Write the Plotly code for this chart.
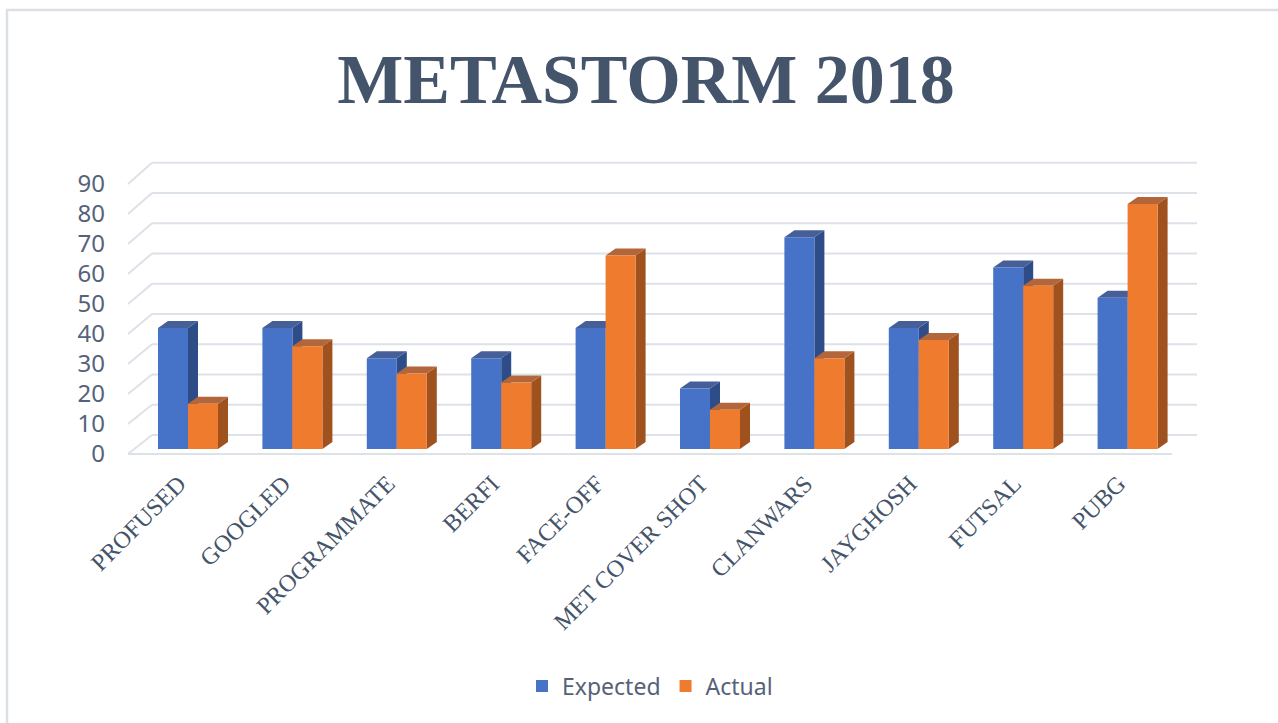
import plotly.graph_objects as go
import numpy as np

categories = ["PROFUSED", "GOOGLED", "PROGRAMMATE", "BERFI", "FACE-OFF",
              "MET COVER SHOT", "CLANWARS", "JAYGHOSH", "FUTSAL", "PUBG"]
expected = [40, 40, 30, 30, 40, 20, 70, 40, 60, 50]
actual = [15, 34, 25, 22, 64, 13, 30, 36, 54, 81]
y_ticks = [0, 10, 20, 30, 40, 50, 60, 70, 80, 90]

W, H = 1278, 723
# plot area in pixels
L_PX, R_PX, T_PX, B_PX = 128, 1197, 150, 460
PW, PH = R_PX - L_PX, B_PX - T_PX

# bar plane scale
ZERO_PX = 449.0
PX_PER_UNIT = 3.025
y0 = (ZERO_PX - B_PX) / PX_PER_UNIT
y1 = (ZERO_PX - T_PX) / PX_PER_UNIT

# x scale
CAT_PX = 104.4
FIRST_PX = 188.0
x0 = -(FIRST_PX - L_PX) / CAT_PX
x1 = x0 + PW / CAT_PX
BW = 30.0 / CAT_PX
DX = 10.0 / CAT_PX
DY = 7.0 / PX_PER_UNIT
LABEL_SHIFT = 9.0 / CAT_PX

BACK_OFF = 14.0 / PX_PER_UNIT
FRONT_SLOPE, FRONT_OFF = 0.992, -1.65


def front(v):
    return v * FRONT_SLOPE + FRONT_OFF


def xp(px):
    return (px - L_PX) / PW


def yp(py):
    return (B_PX - py) / PH


BLUE, ORANGE = "#4673C7", "#EE7B2E"
BLUE_SIDE, ORANGE_SIDE = "#2E4C88", "#A0521E"
BLUE_TOP, ORANGE_TOP = "#465F99", "#B3663A"
GRID = "#DDE1E8"
TXT = "#44546A"

xs = np.arange(len(categories))

fig = go.Figure()
fig.add_trace(go.Bar(name="Expected", x=xs, y=expected, width=BW, offset=-BW,
                     marker=dict(color=BLUE, line=dict(width=0))))
fig.add_trace(go.Bar(name="Actual", x=xs, y=actual, width=BW, offset=0,
                     marker=dict(color=ORANGE, line=dict(width=0))))

shapes = []
# gridlines (back wall + side wall diagonals)
xb = xp(152)
for v in y_ticks:
    shapes.append(dict(type="line", xref="paper", yref="y", x0=xb, x1=1.0,
                       y0=v + BACK_OFF, y1=v + BACK_OFF,
                       line=dict(color=GRID, width=2), layer="below"))
    shapes.append(dict(type="line", xref="paper", yref="y", x0=0, x1=xb,
                       y0=front(v), y1=v + BACK_OFF,
                       line=dict(color=GRID, width=2), layer="below"))
# front floor edge
shapes.append(dict(type="line", xref="paper", yref="y", x0=0, x1=xp(1172),
                   y0=front(0), y1=front(0), line=dict(color=GRID, width=2), layer="below"))


def faces(xl, v, side_c, top_c):
    xr = xl + BW
    side = f"M{xr},0 L{xr},{v} L{xr+DX},{v+DY} L{xr+DX},{DY} Z"
    top = f"M{xl},{v} L{xr},{v} L{xr+DX},{v+DY} L{xl+DX},{v+DY} Z"
    return [dict(type="path", xref="x", yref="y", path=side, fillcolor=side_c,
                 line=dict(width=0), layer="below"),
            dict(type="path", xref="x", yref="y", path=top, fillcolor=top_c,
                 line=dict(width=0), layer="below")]


for i in range(len(categories)):
    shapes += faces(xs[i] - BW, expected[i], BLUE_SIDE, BLUE_TOP)
    shapes += faces(xs[i], actual[i], ORANGE_SIDE, ORANGE_TOP)

# outer frame
shapes.append(dict(type="path", xref="paper", yref="paper",
                   path=f"M{xp(7)},{yp(H+5)} L{xp(7)},{yp(10)} L{xp(W+5)},{yp(10)}",
                   line=dict(color="#DCE0E6", width=2.5)))

fig.update_layout(
    width=W, height=H,
    margin=dict(l=L_PX, r=W - R_PX, t=T_PX, b=H - B_PX, pad=0),
    paper_bgcolor="white", plot_bgcolor="white",
    barmode="overlay",
    shapes=shapes,
    title=dict(text="<b>METASTORM 2018</b>", x=646 / W, xanchor="center",
               y=1 - 78 / H, yanchor="middle",
               font=dict(family="Liberation Serif", size=70, color=TXT)),
    xaxis=dict(range=[x0, x1], showticklabels=False, showgrid=False,
               zeroline=False, showline=False, ticks=""),
    xaxis2=dict(range=[x0 + LABEL_SHIFT, x1 + LABEL_SHIFT], overlaying="x",
                anchor="y", side="bottom",
                tickvals=list(xs), ticktext=categories,
                tickangle=-45, showgrid=False, zeroline=False, showline=False,
                ticks="", ticklabelstandoff=4,
                tickfont=dict(family="Liberation Serif", size=24, color=TXT)),
    yaxis=dict(range=[y0, y1], showgrid=False, zeroline=False, showline=False,
               showticklabels=False, ticks=""),
    yaxis2=dict(range=[(y0 - FRONT_OFF) / FRONT_SLOPE, (y1 - FRONT_OFF) / FRONT_SLOPE],
                overlaying="y", anchor="x", side="left",
                tickvals=y_ticks, ticktext=[str(v) for v in y_ticks],
                showgrid=False, zeroline=False, showline=False, ticks="",
                ticklabelstandoff=22,
                tickfont=dict(family="Noto Sans", size=24, color="#56627A")),
    legend=dict(orientation="h", xref="container", yref="container",
                x=650 / W, xanchor="center", y=1 - 686 / H, yanchor="middle",
                font=dict(family="Noto Sans", size=23, color="#56627A"),
                itemwidth=30, traceorder="normal"),
    showlegend=True,
)
# invisible helpers so the label axes render
fig.add_trace(go.Scatter(x=[None], y=[None], yaxis="y2", showlegend=False,
                         hoverinfo="skip"))
fig.add_trace(go.Scatter(x=[None], y=[None], xaxis="x2", showlegend=False,
                         hoverinfo="skip"))

fig.write_html("out.html", config={"displayModeBar": False},
               post_script="document.body.style.margin='0';")
